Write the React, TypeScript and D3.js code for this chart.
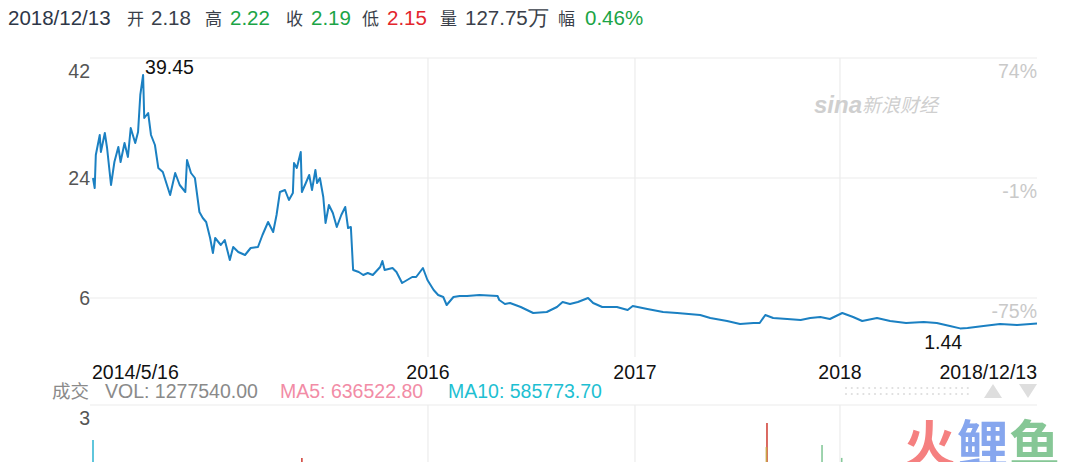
import React from 'react';
import * as d3 from 'd3';

// price series (close)
const priceDates: string[] = [
  '2014-05-16', '2014-05-19', '2014-05-21', '2014-05-28', '2014-05-30', '2014-06-06', '2014-06-10', '2014-06-17',
  '2014-06-23', '2014-06-30', '2014-07-04', '2014-07-11', '2014-07-17', '2014-07-22', '2014-07-30', '2014-08-04',
  '2014-08-08', '2014-08-13', '2014-08-15', '2014-08-22', '2014-08-27', '2014-09-03', '2014-09-09', '2014-09-17',
  '2014-09-30', '2014-10-09', '2014-10-17', '2014-10-27', '2014-10-30', '2014-11-06', '2014-11-13', '2014-11-21',
  '2014-11-27', '2014-12-03', '2014-12-10', '2014-12-15', '2014-12-19', '2014-12-29', '2015-01-05', '2015-01-14',
  '2015-01-20', '2015-01-29', '2015-02-10', '2015-02-20', '2015-03-05', '2015-03-13', '2015-03-23', '2015-04-01',
  '2015-04-07', '2015-04-13', '2015-04-22', '2015-04-29', '2015-05-06', '2015-05-08', '2015-05-13', '2015-05-20',
  '2015-05-22', '2015-05-29', '2015-06-04', '2015-06-09', '2015-06-15', '2015-06-18', '2015-06-23', '2015-06-29',
  '2015-07-03', '2015-07-09', '2015-07-16', '2015-07-23', '2015-07-31', '2015-08-07', '2015-08-12', '2015-08-17',
  '2015-08-21', '2015-08-31', '2015-09-08', '2015-09-16', '2015-09-25', '2015-10-08', '2015-10-12', '2015-10-16',
  '2015-10-30', '2015-11-06', '2015-11-16', '2015-11-25', '2015-12-04', '2015-12-11', '2015-12-23', '2015-12-31',
  '2016-01-11', '2016-01-19', '2016-01-28', '2016-02-03', '2016-02-15', '2016-02-26', '2016-03-10', '2016-04-01',
  '2016-05-03', '2016-05-06', '2016-05-16', '2016-05-25', '2016-06-13', '2016-07-05', '2016-07-29', '2016-08-16',
  '2016-08-26', '2016-09-08', '2016-09-22', '2016-10-10', '2016-10-19', '2016-11-04', '2016-11-30', '2016-12-19',
  '2016-12-28', '2017-01-23', '2017-02-20', '2017-03-17', '2017-04-27', '2017-05-15', '2017-06-14', '2017-07-07',
  '2017-07-31', '2017-08-11', '2017-08-21', '2017-09-04', '2017-09-29', '2017-10-23', '2017-11-09', '2017-11-27',
  '2017-12-14', '2018-01-05', '2018-01-24', '2018-02-09', '2018-03-07', '2018-03-30', '2018-04-27', '2018-05-28',
  '2018-06-20', '2018-07-13', '2018-07-31', '2018-08-13', '2018-09-10', '2018-10-09', '2018-11-08', '2018-12-13',
];
const priceValues: number[] = [
  24.0, 22.5, 27.45, 30.45, 27.9, 30.75, 28.5, 22.95,
  26.4, 28.65, 26.4, 29.25, 27.15, 31.5, 29.25, 30.9,
  36.45, 39.45, 33.0, 33.75, 30.45, 28.95, 25.5, 24.9,
  21.45, 24.75, 22.95, 21.9, 26.7, 24.75, 24.0, 18.9,
  18.0, 17.4, 15.0, 12.75, 15.0, 13.95, 14.7, 11.7,
  13.65, 12.9, 12.45, 13.5, 13.65, 15.45, 17.4, 15.9,
  18.45, 21.9, 22.2, 20.7, 21.75, 26.25, 25.5, 27.9,
  21.9, 23.25, 24.45, 22.2, 25.2, 23.25, 24.0, 21.15,
  17.25, 19.95, 18.75, 16.65, 18.45, 19.65, 16.5, 16.65,
  10.2, 9.9, 9.45, 9.75, 9.45, 10.65, 11.55, 10.2,
  10.5, 9.9, 8.25, 8.7, 9.15, 9.15, 10.5, 8.7,
  7.2, 6.45, 6.15, 4.95, 6.15, 6.3, 6.3, 6.45,
  6.3, 5.7, 5.1, 5.25, 4.65, 3.75, 3.9, 4.65,
  5.4, 5.1, 5.4, 6.0, 5.25, 4.65, 4.65, 4.2,
  4.8, 4.35, 3.9, 3.75, 3.45, 3.0, 2.55, 2.1,
  2.25, 2.25, 3.45, 3.0, 2.85, 2.7, 3.0, 3.15,
  2.85, 3.75, 3.15, 2.55, 3.0, 2.55, 2.25, 2.4,
  2.25, 1.8, 1.44, 1.5, 1.8, 2.1, 1.95, 2.19,
];

// volume spikes visible above the crop edge
const volDates = ['2014-05-16', '2015-05-22', '2017-08-24', '2017-08-23', '2017-11-30', '2018-01-04'];
const volValues = [2.16, 1.73, 2.57, 1.99, 2.04, 1.73];
const volKinds = ['ma', 'up', 'up', 'flat', 'down', 'down'];

const yTicks = [42, 24, 6];
const pctLabels = ['74%', '-1%', '-75%'];
const volTicks = [3];
const yearTicks = ['2016-01-01', '2017-01-01', '2018-01-01'];

const headerDate = '2018/12/13';
const headerNames = ['开', '高', '收', '低', '量', '幅'];
const headerValues = ['2.18', '2.22', '2.19', '2.15', '127.75万', '0.46%'];
const headerTones = ['flat', 'up', 'up', 'down', 'flat', 'up'];

const legendNames = ['VOL', 'MA5', 'MA10'];
const legendValues = ['1277540.00', '636522.80', '585773.70'];

const W = 1080;
const H = 462;
const FONT = '"Liberation Sans", Arial, Helvetica, sans-serif';
const CJK = '"Noto Sans CJK SC", "Noto Sans", sans-serif';

const toneColor: Record<string, string> = { flat: '#3a3f4a', up: '#1ba446', down: '#e3262d' };
const volColor: Record<string, string> = { ma: '#38b8d4', up: '#d2453c', flat: '#c9a548', down: '#86c99a' };
const legendColor = ['#8a8a8a', '#f28ca6', '#1ebfd2'];

const headerNameX = [127, 205, 286, 362, 440, 558];
const headerValueX = [151, 230, 311, 387, 465, 585];
const legendX = [105, 280, 448];

const parse = d3.timeParse('%Y-%m-%d');

export default function App() {
  const plot = { left: 90, right: 1037, top: 58, bottom: 357 };

  const x = d3.scaleTime()
    .domain([parse('2014-05-16')!, parse('2016-01-01')!, parse('2017-01-01')!, parse('2018-01-01')!, parse('2018-12-13')!])
    .range([93, 428, 635, 840, 1037]);

  const y = d3.scaleLinear().domain([6, 42]).range([298, 58]);
  const yVol = d3.scaleLinear().domain([0, 3]).range([530, 405]);

  const pts = priceDates.map((d, i) => ({ date: parse(d)!, value: priceValues[i] }));
  const line = d3.line<{ date: Date; value: number }>()
    .x((d) => x(d.date))
    .y((d) => y(d.value));

  const iMax = d3.maxIndex(pts, (d) => d.value);
  const iMin = d3.minIndex(pts, (d) => d.value);
  const pMax = pts[iMax];
  const pMin = pts[iMin];

  // dotted scroller on the legend row
  const dots: [number, number][] = [];
  d3.range(22).forEach((i) => {
    dots.push([846 + i * 5.8, 388]);
    dots.push([846 + i * 5.8, 394]);
  });

  return (
    <svg
      width={W}
      height={H}
      style={{ position: 'absolute', left: 0, top: 0, background: '#fff' }}
      fontFamily={FONT}
    >
      {/* header */}
      <g fontSize={20.5}>
        <text x={8} y={25} fill="#2e3747">{headerDate}</text>
        {headerNames.map((n, i) => (
          <g key={n}>
            <text x={headerNameX[i]} y={25} fill="#3a3f4a" fontFamily={CJK} fontSize={17}>{n}</text>
            <text x={headerValueX[i]} y={25} fill={toneColor[headerTones[i]]}>{headerValues[i]}</text>
          </g>
        ))}
      </g>

      {/* grid */}
      <g stroke="#ececec" strokeWidth={1.2}>
        {yTicks.map((t) => (
          <line key={t} x1={plot.left} x2={plot.right} y1={y(t)} y2={y(t)} />
        ))}
        {yearTicks.map((d) => (
          <line key={d} x1={x(parse(d)!)} x2={x(parse(d)!)} y1={plot.top} y2={plot.bottom} />
        ))}
        {volTicks.map((t) => (
          <line key={t} x1={plot.left} x2={plot.right} y1={yVol(t)} y2={yVol(t)} />
        ))}
        {yearTicks.map((d) => (
          <line key={'v' + d} x1={x(parse(d)!)} x2={x(parse(d)!)} y1={yVol(3)} y2={H} />
        ))}
      </g>

      {/* watermark */}
      <g fill="#cfcfcf">
        <text x={814} y={113} fontSize={24} fontStyle="italic" fontWeight="bold">sina</text>
        <text x={862} y={112} fontSize={19} fontFamily={CJK} fontStyle="italic">新浪财经</text>
      </g>

      {/* left / right y labels */}
      <g fontSize={19.5}>
        {yTicks.map((t, i) => (
          <text key={t} x={90} y={y(t) + (i === 0 ? 20 : 7)} textAnchor="end" fill="#555">{t}</text>
        ))}
        {pctLabels.map((l, i) => (
          <text key={l} x={1037} y={y(yTicks[i]) + 20} textAnchor="end" fill="#c9c9c9">{l}</text>
        ))}
      </g>

      {/* price line */}
      <path d={line(pts) ?? ''} fill="none" stroke="#1b80c2" strokeWidth={2} strokeLinejoin="round" />

      {/* max / min */}
      <text x={x(pMax.date) + 2} y={y(pMax.value) - 1} fontSize={19.5} fill="#111">{pMax.value.toFixed(2)}</text>
      <text x={x(pMin.date) + 2} y={y(pMin.value) + 21} fontSize={19.5} fill="#111" textAnchor="end">{pMin.value.toFixed(2)}</text>

      {/* x labels */}
      <g fontSize={19.5} fill="#111">
        <text x={92} y={379}>2014/5/16</text>
        {yearTicks.map((d) => (
          <text key={d} x={x(parse(d)!)} y={379} textAnchor="middle">{d.slice(0, 4)}</text>
        ))}
        <text x={1037} y={379} textAnchor="end">2018/12/13</text>
      </g>

      {/* volume legend row */}
      <g fontSize={19.5}>
        <text x={52} y={398} fill="#8a8a8a" fontFamily={CJK} fontSize={18.5}>成交</text>
        {legendNames.map((n, i) => (
          <text key={n} x={legendX[i]} y={398} fill={legendColor[i]}>{`${n}: ${legendValues[i]}`}</text>
        ))}
      </g>
      <g fill="#dedede">
        {dots.map(([cx, cy], i) => (
          <circle key={i} cx={cx} cy={cy} r={1.1} />
        ))}
        <path d="M993,384 L1002,398 L984,398 Z" />
        <path d="M1019,384 L1037,384 L1028,398 Z" />
      </g>

      {/* volume panel */}
      <g fontSize={19.5}>
        {volTicks.map((t) => (
          <text key={t} x={90} y={yVol(t) + 20} textAnchor="end" fill="#555">{t}</text>
        ))}
      </g>
      {volDates.map((d, i) => (
        <line
          key={d}
          x1={x(parse(d)!)}
          x2={x(parse(d)!)}
          y1={yVol(volValues[i])}
          y2={yVol(0)}
          stroke={volColor[volKinds[i]]}
          strokeWidth={1.6}
        />
      ))}

      {/* 火鲤鱼 watermark */}
      <g fontFamily={CJK} fontWeight="bold" fontSize={51}>
        <text x={904} y={463} fill="#f58080">火</text>
        <text x={957} y={463} fill="#86a6ee">鲤</text>
        <text x={1009} y={463} fill="#86c796">鱼</text>
      </g>
    </svg>
  );
}
